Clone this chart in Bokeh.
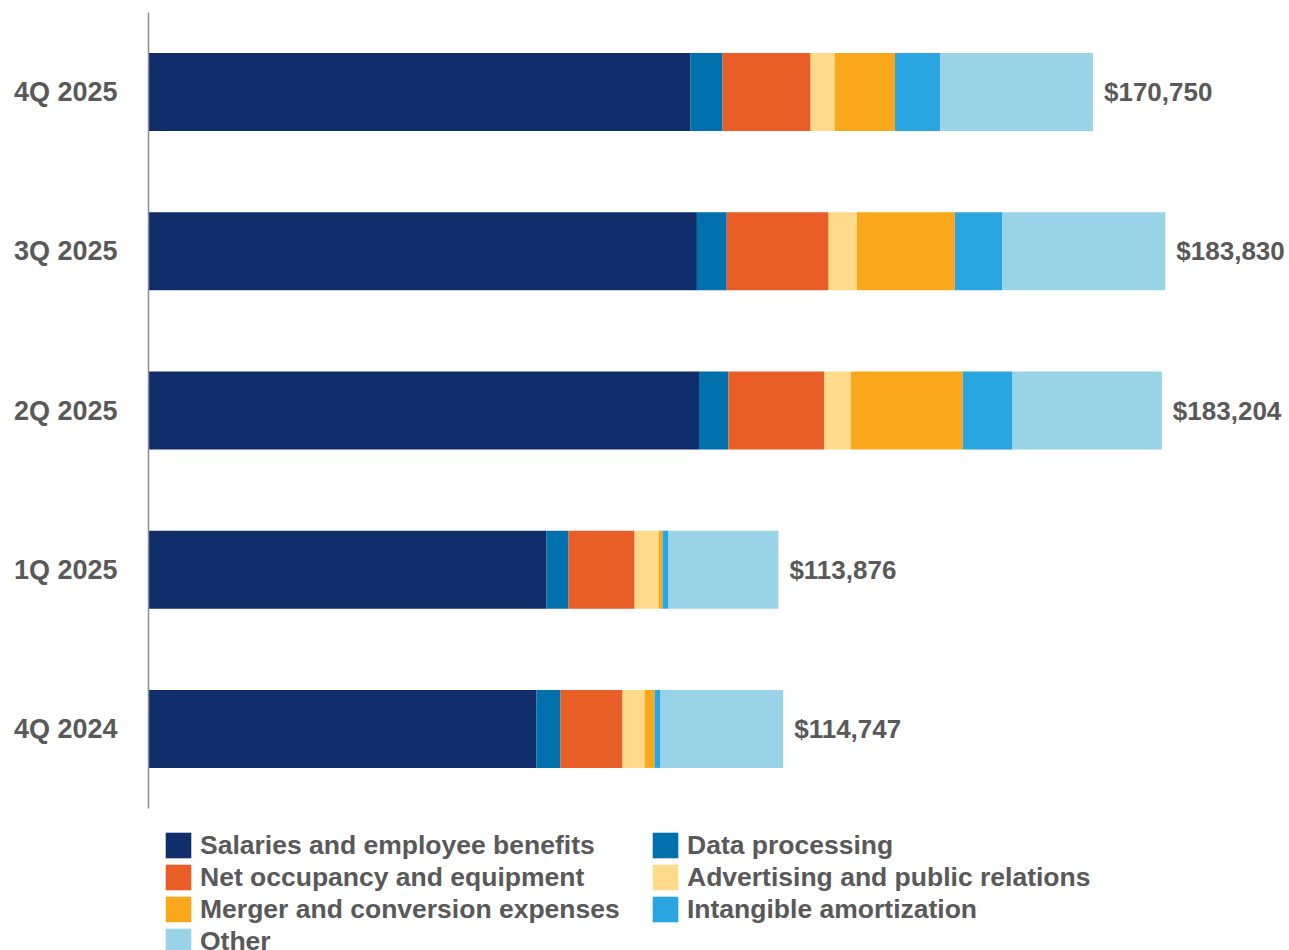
from bokeh.plotting import figure
from bokeh.models import ColumnDataSource, Range1d, Legend, LegendItem, FixedTicker
from bokeh.core.properties import value
from bokeh.embed import file_html
from bokeh.resources import INLINE

# ---------------- data ----------------
categories = ["4Q 2024", "1Q 2025", "2Q 2025", "3Q 2025", "4Q 2025"]
totals = [114747, 113876, 183204, 183830, 170750]

salaries = [70158, 71966, 99524, 99144, 98004]
data_processing = [4340, 3978, 5316, 5388, 5786]
net_occupancy = [11211, 11934, 17359, 18426, 15912]
advertising = [3978, 4340, 4792, 5099, 4340]
merger = [1808, 723, 20234, 17720, 10922]
intangible = [1085, 1085, 8987, 8607, 8155]
other = [22167, 19850, 26992, 29446, 27631]

series_names = ["Salaries and employee benefits", "Data processing",
                "Net occupancy and equipment", "Advertising and public relations",
                "Merger and conversion expenses", "Intangible amortization", "Other"]
colors = ["#0f2d69", "#0071ad", "#e95d26", "#fedb8b", "#f9a81c", "#29a6df", "#99d3e8"]
keys = ["salaries", "data", "occupancy", "advertising", "merger", "intangible", "other"]

TEXT = "#595959"
FONT = "Liberation Sans"

ypos = list(range(len(categories)))
src = ColumnDataSource(dict(
    y=ypos, salaries=salaries, data=data_processing, occupancy=net_occupancy,
    advertising=advertising, merger=merger, intangible=intangible, other=other,
    total=totals, label=[f"${v:,}" for v in totals],
))

n = len(categories)
p = figure(
    y_range=Range1d(n - 0.5 - 938 / 159.2, n - 0.5),
    x_range=Range1d(0, 206100),
    width=1289, height=950,
    output_backend="svg", toolbar_location=None,
    x_axis_location=None,
    min_border_left=148, min_border_top=12, min_border_right=1, min_border_bottom=0,
)
p.outline_line_color = None
p.xgrid.visible = False
p.ygrid.visible = False

renderers = p.hbar_stack(keys, y="y", height=0.49, color=colors, line_color=None, source=src)

p.text(x="total", y="y", text="label", source=src, x_offset=11,
       text_baseline="middle", text_align="left",
       text_font=value(FONT), text_font_style="bold", text_font_size="26px", text_color=TEXT)

ax = p.yaxis[0]
ax.ticker = FixedTicker(ticks=ypos)
ax.major_label_overrides = {i: c for i, c in zip(ypos, categories)}
ax.bounds = (-0.5, n - 0.5)
ax.axis_line_color = "#8c8c8c"
ax.axis_line_width = 1.5
ax.major_tick_line_color = None
ax.minor_tick_line_color = None
ax.major_label_standoff = 25
ax.major_label_text_font = FONT
ax.major_label_text_font_style = "bold"
ax.major_label_text_font_size = "27px"
ax.major_label_text_color = TEXT

def make_legend(idx, loc):
    items = [LegendItem(label=series_names[i], renderers=[renderers[i]]) for i in idx]
    return Legend(items=items, location=loc, orientation="vertical",
                  glyph_width=32, glyph_height=32, label_height=32, label_standoff=6,
                  spacing=0, padding=0, margin=0,
                  border_line_color=None, background_fill_alpha=0,
                  label_text_font=FONT, label_text_font_style="bold",
                  label_text_font_size="26.5px", label_text_color=TEXT,
                  label_text_baseline="middle")

p.add_layout(make_legend([0, 2, 4, 6], (14, -7)), "center")
p.add_layout(make_legend([1, 3, 5], (501, 25)), "center")

open("out.html", "w").write(file_html(p, INLINE))
